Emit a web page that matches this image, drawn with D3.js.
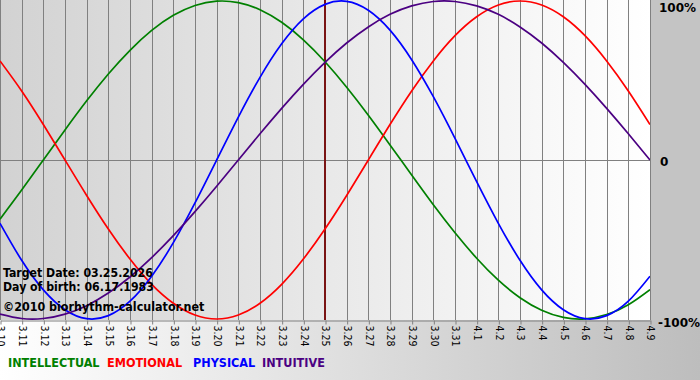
<!DOCTYPE html>
<html><head><meta charset="utf-8">
<script src="https://cdn.jsdelivr.net/npm/d3@7"></script>
<style>body{margin:0;background:#fff}svg{display:block}</style>
</head><body>
<svg id="c" width="700" height="380"></svg>
<script>
const dates = ["3.10","3.11","3.12","3.13","3.14","3.15","3.16","3.17","3.18","3.19","3.20","3.21","3.22","3.23","3.24","3.25","3.26","3.27","3.28","3.29","3.30","3.31","4.1","4.2","4.3","4.4","4.5","4.6","4.7","4.8","4.9"];
const intellectual = [-0.372,-0.189,0,0.189,0.372,0.541,0.690,0.815,0.910,0.972,0.999,0.990,0.945,0.866,0.756,0.618,0.458,0.282,0.095,-0.095,-0.282,-0.458,-0.618,-0.756,-0.866,-0.945,-0.990,-0.999,-0.972,-0.910,-0.815];
const emotional = [0.623,0.434,0.223,0,-0.223,-0.434,-0.623,-0.782,-0.901,-0.975,-1.0,-0.975,-0.901,-0.782,-0.623,-0.434,-0.223,0,0.223,0.434,0.623,0.782,0.901,0.975,1.0,0.975,0.901,0.782,0.623,0.434,0.223];
const physical = [-0.398,-0.631,-0.817,-0.942,-0.998,-0.979,-0.888,-0.731,-0.520,-0.270,0,0.270,0.520,0.731,0.888,0.979,0.998,0.942,0.817,0.631,0.398,0.136,-0.136,-0.398,-0.631,-0.817,-0.942,-0.998,-0.979,-0.888,-0.731];
const intuitive = [-0.969,-0.997,-0.997,-0.969,-0.916,-0.837,-0.736,-0.614,-0.476,-0.325,-0.165,0,0.165,0.325,0.476,0.614,0.736,0.837,0.916,0.969,0.997,0.997,0.969,0.916,0.837,0.736,0.614,0.476,0.325,0.165,0];
const targetDate = "3.25";
const yTicks = [1, 0, -1];
const yTickLabels = ["100%", "0", "-100%"];
const legendNames = ["INTELLECTUAL", "EMOTIONAL", "PHYSICAL", "INTUITIVE"];
const infoLines = ["Target Date: 03.25.2026", "Day of birth: 06.17.1983", "\u00a92010 biorhythm-calculator.net"];

const series = [
  {name: legendNames[0], values: intellectual, color: "#008000"},
  {name: legendNames[1], values: emotional, color: "#ff0000"},
  {name: legendNames[2], values: physical, color: "#0000ff"},
  {name: legendNames[3], values: intuitive, color: "#4b0082"}
];

const W = 700, H = 380, PW = 650, PH = 320;
const svg = d3.select("#c");
const defs = svg.append("defs");
const g1 = defs.append("linearGradient").attr("id","plotBg").attr("x1","0").attr("x2","1").attr("y1","0").attr("y2","0");
g1.append("stop").attr("offset","0").attr("stop-color","#d2d2d2");
g1.append("stop").attr("offset","1").attr("stop-color","#ffffff");
const g2 = defs.append("linearGradient").attr("id","botBg").attr("x1","0").attr("x2","1").attr("y1","0").attr("y2","0");
g2.append("stop").attr("offset","0").attr("stop-color","#ffffff");
g2.append("stop").attr("offset","1").attr("stop-color","#bdbdbd");
defs.append("clipPath").attr("id","clip").append("rect").attr("x",0).attr("y",0).attr("width",PW).attr("height",PH);

svg.append("rect").attr("x",0).attr("y",PH).attr("width",W).attr("height",H-PH).attr("fill","url(#botBg)");
svg.append("rect").attr("x",PW).attr("y",0).attr("width",W-PW).attr("height",PH).attr("fill","#c4c4c4");
svg.append("rect").attr("x",0).attr("y",0).attr("width",PW).attr("height",PH).attr("fill","url(#plotBg)");

const x = d3.scalePoint().domain(dates).range([0, PW]);
const y = d3.scaleLinear().domain([-1, 1]).range([PH - 1, 1]);

// vertical grid
svg.append("g").selectAll("line").data(dates).join("line")
  .attr("x1", d => Math.round(x(d)) + 0.5).attr("x2", d => Math.round(x(d)) + 0.5)
  .attr("y1", 0).attr("y2", PH)
  .attr("stroke", "#808080").attr("stroke-width", 1);
// zero line
svg.append("line").attr("x1",0).attr("x2",PW).attr("y1",Math.round(y(0))+0.5).attr("y2",Math.round(y(0))+0.5)
  .attr("stroke","#808080");
// right border
svg.append("line").attr("x1",PW+0.5).attr("x2",PW+0.5).attr("y1",0).attr("y2",PH).attr("stroke","#808080");

// bottom axis
const ax = svg.append("g").attr("transform", `translate(0.5,${PH + 0.5})`)
  .call(d3.axisBottom(x).tickSize(4).tickSizeOuter(0));
ax.select(".domain").attr("stroke","#808080");
ax.selectAll(".tick line").attr("stroke","#808080");
ax.selectAll(".tick text")
  .attr("transform","rotate(90)")
  .attr("x", 5).attr("y", 0).attr("dy","0.35em")
  .style("text-anchor","start")
  .attr("font-family","'DejaVu Sans Condensed', 'DejaVu Sans', sans-serif")
  .attr("font-size", 10.5).attr("fill","#000");

// target line
svg.append("line").attr("x1", x(targetDate)).attr("x2", x(targetDate)).attr("y1",0).attr("y2",PH)
  .attr("stroke","#7a1414").attr("stroke-width",2);

// series
const line = d3.line().x((d,i) => x(dates[i])).y(d => y(d)).curve(d3.curveNatural);
svg.append("g").attr("clip-path","url(#clip)").selectAll("path").data(series).join("path")
  .attr("d", s => line(s.values)).attr("fill","none")
  .attr("stroke", s => s.color).attr("stroke-width", 1.7);

// right labels
const rl = [[11.5, 659], [165.5, 660], [326.5, 658]];
svg.append("g").selectAll("text").data(yTicks).join("text")
  .attr("x", (d,i) => rl[i][1]).attr("y", (d,i) => rl[i][0])
  .attr("font-family","'DejaVu Sans', sans-serif").attr("font-weight","bold").attr("font-size",12)
  .attr("fill","#000").text((d,i) => yTickLabels[i]);

// info text
svg.append("g").selectAll("text").data(infoLines).join("text")
  .attr("x", 3).attr("y", (d,i) => [277, 291, 311][i])
  .attr("font-family","'DejaVu Sans Condensed', 'DejaVu Sans', sans-serif").attr("font-weight","bold")
  .attr("font-size", (d,i) => i === 2 ? 12.4 : 12.2).attr("fill","#000").text(d => d);

// legend
const lx = [8, 107, 193, 262];
svg.append("g").selectAll("text").data(series).join("text")
  .attr("x", (d,i) => lx[i]).attr("y", 367)
  .attr("font-family","'DejaVu Sans Condensed', 'DejaVu Sans', sans-serif").attr("font-weight","bold")
  .attr("font-size", 12.5).attr("fill", d => d.color).text(d => d.name);
</script>
</body></html>
